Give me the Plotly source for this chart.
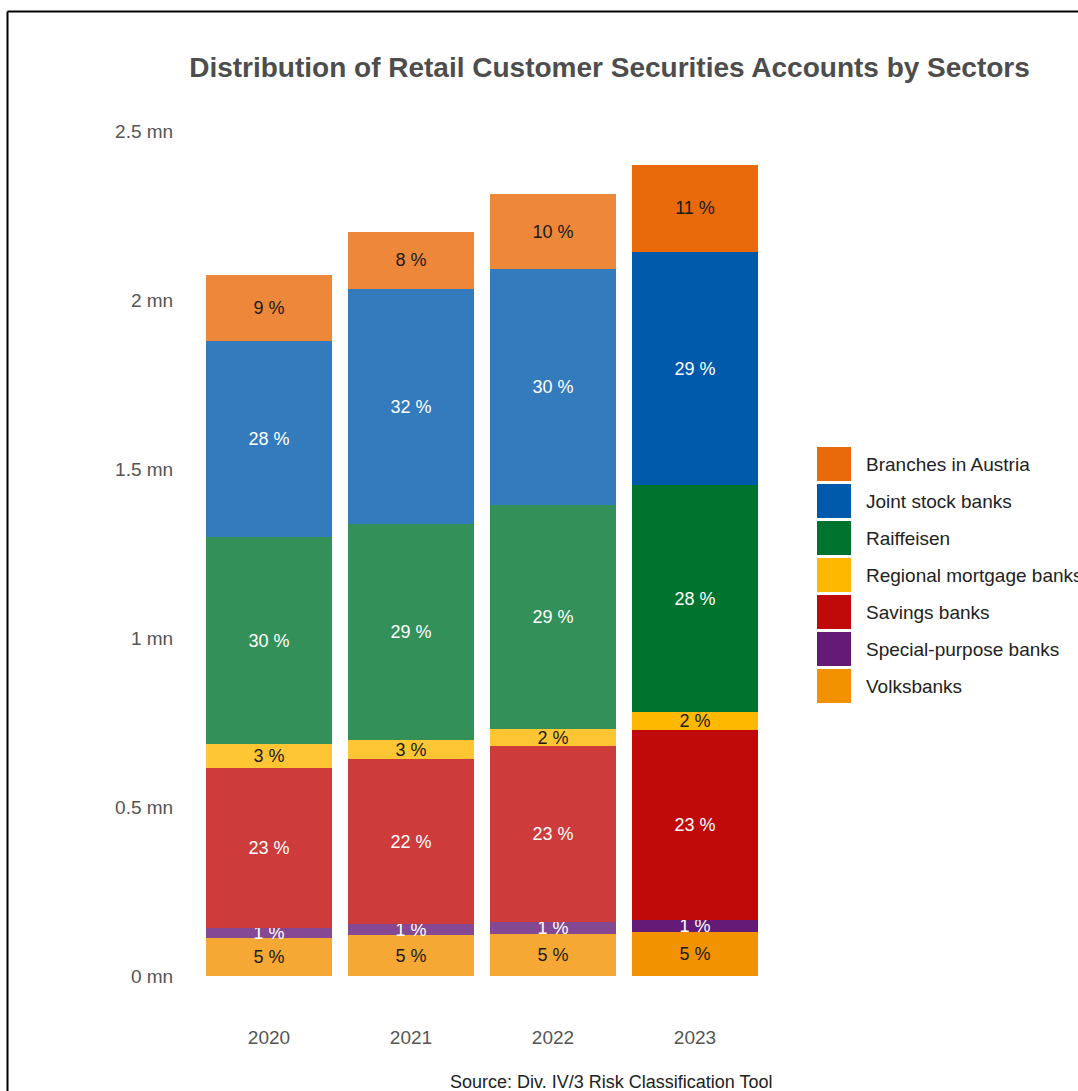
import plotly.graph_objects as go

# Retail customer securities accounts by sector, in millions of accounts
years = ["2020", "2021", "2022", "2023"]

volksbanks = [0.1137, 0.1205, 0.1255, 0.1302]
special_purpose = [0.0284, 0.0320, 0.0330, 0.0355]
savings = [0.4727, 0.4884, 0.5209, 0.5636]
regional_mortgage = [0.0710, 0.0560, 0.0515, 0.0521]
raiffeisen = [0.6130, 0.6393, 0.6620, 0.6701]
joint_stock = [0.5807, 0.6956, 0.6985, 0.6914]
branches_austria = [0.1945, 0.1705, 0.2220, 0.2566]

y_ticks = [0, 0.5, 1, 1.5, 2, 2.5]
y_tick_labels = ["0 mn", "0.5 mn", "1 mn", "1.5 mn", "2 mn", "2.5 mn"]

# stacking order bottom -> top: (name, values, colour, label colour)
sectors = [
    ("Volksbanks", volksbanks, "#f39200", "#1a1a1a"),
    ("Special-purpose banks", special_purpose, "#661a78", "#ffffff"),
    ("Savings banks", savings, "#c00a0a", "#ffffff"),
    ("Regional mortgage banks", regional_mortgage, "#ffb800", "#1a1a1a"),
    ("Raiffeisen", raiffeisen, "#00742f", "#ffffff"),
    ("Joint stock banks", joint_stock, "#005aab", "#ffffff"),
    ("Branches in Austria", branches_austria, "#e96a0a", "#1a1a1a"),
]

# earlier years drawn lighter, latest year at full strength
year_opacity = [0.8, 0.8, 0.8, 1.0]

totals = [sum(s[1][i] for s in sectors) for i in range(len(years))]

FONT = "Liberation Sans, Arial, sans-serif"

fig = go.Figure()
for name, vals, colour, txt_colour in sectors:
    shares = [f"{round(v / t * 100)} %" for v, t in zip(vals, totals)]
    fig.add_trace(go.Bar(
        x=years, y=vals, name=name,
        marker=dict(color=colour, opacity=year_opacity, line=dict(width=0)),
        text=shares, textposition="inside", insidetextanchor="middle",
        textangle=0,
        textfont=dict(family=FONT, size=18, color=txt_colour),
        showlegend=False,
        hovertemplate="%{x}<br>" + name + ": %{y:.3f} mn<extra></extra>",
    ))

# margins of the plotting area in pixels
W, H = 1078, 1091
ML, MR, MT, MB = 198, 312, 131, 115
PW, PH = W - ML - MR, H - MT - MB


def px_x(px):
    return (px - ML) / PW


def px_y(py):
    return (H - MB - py) / PH


shapes = []
annotations = []

# legend: large colour squares with names, listed top -> bottom
leg_x0, leg_y0, sq, pitch = 817, 447, 34, 37
for i, (name, vals, colour, _) in enumerate(reversed(sectors)):
    top = leg_y0 + i * pitch
    shapes.append(dict(type="rect", xref="paper", yref="paper",
                       x0=px_x(leg_x0), x1=px_x(leg_x0 + sq),
                       y0=px_y(top + sq), y1=px_y(top),
                       fillcolor=colour, line=dict(width=0)))
    annotations.append(dict(xref="paper", yref="paper",
                            x=px_x(864), y=px_y(top + sq / 2),
                            xanchor="left", yanchor="middle",
                            text=name, showarrow=False,
                            font=dict(family=FONT, size=19, color="#222222")))

# frame lines along the left and top edges
shapes.append(dict(type="line", xref="paper", yref="paper",
                   x0=px_x(7.5), x1=px_x(7.5), y0=px_y(H + 5), y1=px_y(11.5),
                   line=dict(color="#000000", width=2)))
shapes.append(dict(type="line", xref="paper", yref="paper",
                   x0=px_x(7.5), x1=px_x(W + 5), y0=px_y(11.5), y1=px_y(11.5),
                   line=dict(color="#000000", width=2)))

# source note
annotations.append(dict(xref="paper", yref="paper",
                        x=px_x(611), y=px_y(1082),
                        xanchor="center", yanchor="middle",
                        text="Source: Div. IV/3 Risk Classification Tool",
                        showarrow=False,
                        font=dict(family=FONT, size=18, color="#222222")))

fig.update_layout(
    width=W, height=H,
    margin=dict(l=ML, r=MR, t=MT, b=MB, pad=0),
    barmode="stack", bargap=0.106,
    plot_bgcolor="#ffffff", paper_bgcolor="#ffffff",
    title=dict(text="<b>Distribution of Retail Customer Securities Accounts by Sectors</b>",
               xref="container", yref="container",
               x=609.5 / W, y=1 - 67 / H, xanchor="center", yanchor="middle",
               font=dict(family=FONT, size=28, color="#4d4d4d")),
    uniformtext=dict(minsize=18, mode="show"),
    showlegend=False,
    shapes=shapes,
    annotations=annotations,
    xaxis=dict(showgrid=False, zeroline=False, showline=False,
               ticks="outside", ticklen=44, tickcolor="rgba(0,0,0,0)",
               tickfont=dict(family=FONT, size=19, color="#555555")),
    yaxis=dict(range=[0, 2.5], showgrid=False, zeroline=False, showline=False,
               tickmode="array", tickvals=y_ticks, ticktext=y_tick_labels,
               ticks="outside", ticklen=20, tickcolor="rgba(0,0,0,0)",
               tickfont=dict(family=FONT, size=19, color="#555555")),
)

fig.write_html("out.html")
